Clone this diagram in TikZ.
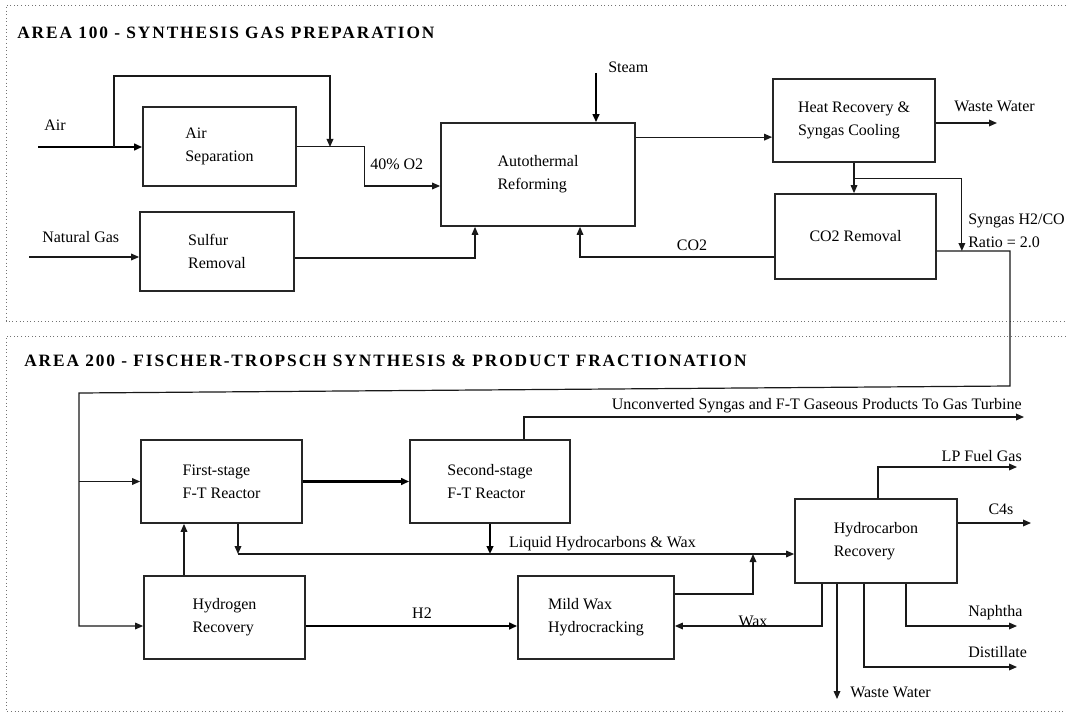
\documentclass[tikz,border=0pt]{standalone}
\usepackage{fontspec}
\setmainfont{Liberation Serif}
\newfontfamily\titlefont[LetterSpace=11]{Liberation Serif}
\usetikzlibrary{arrows.meta,calc}

\begin{document}
\begin{tikzpicture}[x=0.75pt, y=-0.75pt, >={Triangle[length=6pt,width=5pt]},
    font=\fontsize{12}{17}\selectfont,
    unit/.style 2 args={draw=black!85, line width=1.3pt, minimum width=#1*0.75pt,
                        minimum height=#2*0.75pt, inner sep=0pt, align=left},
    lbl/.style={inner sep=0pt},
    flow/.style={line width=0.9pt, black!90},
    heavy/.style={line width=2pt, black},
    area/.style={draw=black!55, dotted, line width=0.7pt},
    title/.style={inner sep=0pt, anchor=west, font=\titlefont\bfseries\fontsize{13}{15}\selectfont}]

    \useasboundingbox (0,0) rectangle (1066,713);

    % frames of the two areas
    \draw[area] (1066,5) -- (6,5) -- (6,321) -- (1066,321);
    \draw[area] (1066,336) -- (6,336) -- (6,711) -- (1066,711);
    \node[title] (t100) at (17,33) {AREA 100 - SYNTHESIS GAS PREPARATION};
    \node[title] (t200) at (24,361) {AREA 200 - FISCHER-TROPSCH SYNTHESIS \& PRODUCT FRACTIONATION};

    % area 100 units
    \node[unit={153}{79}] (airsep) at (219.5,146.5) {Air\\Separation};
    \node[unit={154}{79}] (sulfur) at (217,251.5) {Sulfur\\Removal};
    \node[unit={194}{103}] (atr) at (538,174.5) {Autothermal\\Reforming};
    \node[unit={162}{83}] (heatrec) at (854,120.5) {Heat Recovery \&\\Syngas Cooling};
    \node[unit={161}{85}] (co2rem) at (855.5,236.5) {CO2 Removal};

    % area 200 units
    \node[unit={161}{83}] (ft1) at (221.5,481.5) {First-stage\\F-T Reactor};
    \node[unit={160}{83}] (ft2) at (490,481.5) {Second-stage\\F-T Reactor};
    \node[unit={161}{83}] (h2rec) at (224.5,617.5) {Hydrogen\\Recovery};
    \node[unit={156}{83}] (mwh) at (596,617.5) {Mild Wax\\Hydrocracking};
    \node[unit={162}{84}] (hcrec) at (876,541) {Hydrocarbon\\Recovery};

    % free ends and bends
    \coordinate (airin) at (38,147);
    \coordinate (airtap) at (114,147);
    \coordinate (o2mix) at (330,147);
    \coordinate (ngin) at (29,257);
    \coordinate (steam) at (596,73);
    \coordinate (wwout) at (997,123);
    \coordinate (sgturn) at (1010,251);
    \coordinate (sgdown) at (1010,386);
    \coordinate (sgleft) at (79,393);
    \coordinate (turbine) at (1024,417);
    \coordinate (liq) at (238,554);
    \coordinate (wwbot) at (837,699);
    \coordinate (distil) at (1017,667);
    \coordinate (naphtha) at (1017,626);
    \coordinate (c4out) at (1031,523);
    \coordinate (lpout) at (1017,467);
    \coordinate (atrout) at ($(atr.north east)+(0,15)$);

    % area 100 streams
    \draw[heavy,->] (airin) -- (airsep.west |- airin);
    \draw[flow,->] (airtap) -- ++(0,-71) -| (o2mix);
    \draw[flow,->] (airsep.east) -- ++(68,0) |- ($(atr.west)+(0,11.5)$);
    \draw[flow,->] (ngin) -- (ngin -| sulfur.west);
    \draw[flow,->] ($(sulfur.east)+(0,6.5)$) -| ($(atr.south)+(-63,0)$);
    \draw[heavy,->] (steam) -- (steam |- atr.north);
    \draw[flow,->] (atrout) -- (atrout -| heatrec.west);
    \draw[flow,->] ($(heatrec.east)+(0,2.5)$) -- (wwout);
    \draw[flow,->] (heatrec.south) -- (heatrec.south |- co2rem.north);
    \draw[flow,->] ($(heatrec.south)+(0,16)$) -| ($(co2rem.east)+(25,14.5)$);
    \draw[flow,->] ($(co2rem.west)+(0,20.5)$) -| ($(atr.south)+(42,0)$);

    % syngas to area 200
    \draw[flow,->] ($(co2rem.east)+(0,14.5)$) -- (sgturn) -- (sgdown) -- (sgleft)
        |- ($(h2rec.west)+(0,8.5)$);
    \draw[flow,->] (sgleft |- ft1.west) -- (ft1.west);

    % area 200 streams
    \draw[heavy,->] (ft1.east) -- (ft2.west);
    \draw[flow,->] ($(ft2.north)+(34,0)$) |- (turbine);
    \draw[flow,->] ($(h2rec.north)+(-40.5,0)$) -- ($(ft1.south)+(-37.5,0)$);
    \draw[flow,->] ($(ft1.south)+(16.5,0)$) -- (liq);
    \draw[heavy,->] (ft2.south) -- (ft2.south |- liq);
    \draw[flow,->] (liq) -- (liq -| hcrec.west);
    \draw[heavy,->] ($(h2rec.east)+(0,8.5)$) -- ($(mwh.west)+(0,8.5)$);
    \draw[flow,->] ($(mwh.east)+(0,-23.5)$) -| ($(liq)+(515,0)$);
    \draw[flow,->] ($(hcrec.south)+(-54,0)$) |- ($(mwh.east)+(0,8.5)$);
    \draw[flow,->] ($(hcrec.south)+(-39,0)$) -- (wwbot);
    \draw[flow,->] ($(hcrec.south)+(-12,0)$) |- (distil);
    \draw[flow,->] ($(hcrec.south)+(30,0)$) |- (naphtha);
    \draw[flow,->] ($(hcrec.east)+(0,-18)$) -- (c4out);
    \draw[flow,->] ($(hcrec.north)+(2,0)$) |- (lpout);

    % stream labels
    \node[lbl,anchor=west] (airlbl) at (44,125) {Air};
    \node[lbl,anchor=west] (o2lbl) at (370,164) {40\% O2};
    \node[lbl,anchor=west] (nglbl) at (42,237) {Natural Gas};
    \node[lbl,anchor=west] (steamlbl) at (608,67) {Steam};
    \node[lbl,anchor=west] (ww1lbl) at (954,106) {Waste Water};
    \node[lbl] (co2lbl) at (692,245) {CO2};
    \node[lbl,anchor=west,align=left] (ratiolbl) at (968,231) {Syngas H2/CO\\Ratio = 2.0};
    \node[lbl,anchor=east] (gtlbl) at (1022,406) {Unconverted Syngas and F-T Gaseous Products To Gas Turbine};
    \node[lbl,anchor=east] (liqlbl) at (696,544) {Liquid Hydrocarbons \& Wax};
    \node[lbl] (h2lbl) at (422,613) {H2};
    \node[lbl] (waxlbl) at (753,621) {Wax};
    \node[lbl,anchor=east] (lplbl) at (1022,456) {LP Fuel Gas};
    \node[lbl] (c4lbl) at (1001,509) {C4s};
    \node[lbl,anchor=west] (naplbl) at (968,613) {Naphtha};
    \node[lbl,anchor=west] (dislbl) at (968,652) {Distillate};
    \node[lbl,anchor=west] (ww2lbl) at (850,692) {Waste Water};
\end{tikzpicture}
\end{document}
